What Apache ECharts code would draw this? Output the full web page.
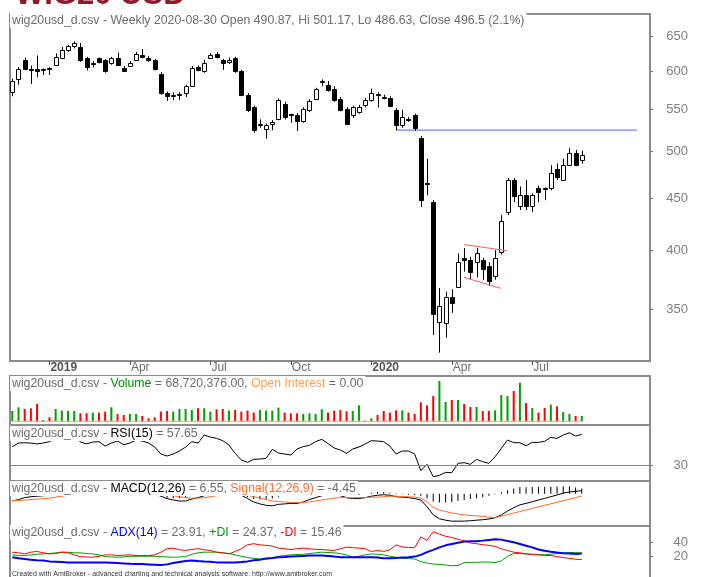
<!DOCTYPE html>
<html>
<head>
<meta charset="utf-8">
<title>wig20usd_d.csv - Weekly</title>
<script src="https://cdn.jsdelivr.net/npm/echarts@6.0.0/dist/echarts.min.js"></script>
<style>
html, body { margin: 0; padding: 0; background: #fff; }
#chart { width: 702px; height: 577px; }
</style>
</head>
<body>
<div id="chart"></div>
<script>
// weekly bars 2018-11-25 .. 2020-08-30 (index 0..92)
const opens = [573,590,616,603,603,603,605,608,619,630, 636,634,618,610,618,615,611,618,605,607,
  616,623,619,615,597,571,567,568,571,581, 606,600,619,624,615,613,618,600,569,553,
  532,527,533,539,557,544.5,544,536,549,563, 586,582,577,564,551,543,547,556,562,570,
  566.5,565,550,531,539,543,516,466,446,340, 339,360,368,393,391,389,391,386,377,398,
  436,469,442,453,442,461,460.5,460,481,469, 485,499,490.87]
const highs = [590,606,619,608,622,604,605.5,625,634,637, 642,640,620,614,619,617,620,626,607,614,
  627,631,621,617,599,573,572,572,582,607, 608,616,625,627,617,619,620,602,571,555,
  538,533,537,564,560,545,546,553,563,578, 589,587,580,566,553,555,556,565,577,572,
  569,567,552,550,541,545,518,492,448,367, 364,366,397,402,394,402,393,389,400,433,
  471,471,462,469,455,463,461,485,487,492, 504,502,501.17]
const lows = [567,582,602,583,592,595,595,607,618,627, 632,613,601,605,611,598,609,607,600,606,
  614,618,613,601,569,561,562,562,566,580, 600,598,617,618,602,610,598,567,547,522,
  528,515,525,537,538,534,524,534,547,565, 580,573,560,548,531,540,545,553,560,553,
  563,553,525,528,535,524,441,453,330,317, 328,347,367,381,374,376,374,369,374,396,
  433,446,438,438,436,446,448,458,469,468, 484,484,486.63]
const closes = [587,603,603,602,600,603.5,604.5,620,630,635, 640,615,606,611,613,600,618,608,601,612,
  624,620,615,603,571,567,569,570,580,605, 602,612,623,620,611,616,600,569,550,525,
  533,531,535,562,541,544,536,551,561,576, 587,575,562,550,533,553,553,562,571,568,
  566,555,531,541,538.5,528,448,465.5,346,352, 360,355,389,391,381,397,383,373,393,427,
  469,452,453,442,453,456,460,476,472,485, 498,485,496.5]
// volume in millions of shares
const volume = [134,182,160,169,225,17,52,160,139,134, 134,104,104,113,113,126,182,95,82,95,
  95,69,39,52,126,134,126,160,160,147, 169,169,126,156,160,139,147,126,139,113,
  147,139,139,178,113,104,104,95,104,95, 156,113,139,147,130,134,208,9,39,82,
  134,113,143,143,113,95,247,208,329,524, 251,277,277,225,186,186,134,134,143,342,
  329,394,503,238,173,113,173,217,195,121, 95,69,68.72]
const openInterest = [0,0,0,0,0,0,0,0,0,0, 0,0,0,0,0,0,0,0,0,0, 0,0,0,0,0,0,0,0,0,0,
  0,0,0,0,0,0,0,0,0,0, 0,0,0,0,0,0,0,0,0,0, 0,0,0,0,0,0,0,0,0,0,
  0,0,0,0,0,0,0,0,0,0, 0,0,0,0,0,0,0,0,0,0, 0,0,0,0,0,0,0,0,0,0, 0,0,0]
const rsi = [46.5,49.8,50,49.8,49,49.8,51,54,56,57, 58,50.7,49,50.7,51,47,49.8,51.6,48.3,49.8,
  52.5,51.6,49.8,46.2,39.9,38.1,39.9,42.6,46.2,51, 49.8,57,55.2,54,51.9,48,40.5,34.5,32.4,35.1,
  35.4,36,44.1,40.8,39.9,39,44.4,46.6,47.7,51.1, 53.1,49.3,45.3,43.5,40.5,44.4,46.2,48.9,51.9,51.6,
  51,47,39.9,42.6,42.6,39.9,24.9,30.6,19.5,20.7, 23.4,23.1,31.5,32.1,30.6,35.1,33,31.5,37.5,45,
  52.5,50.1,50.1,47.4,50.4,50.4,51.3,54.9,54,57, 59.1,56.1,57.65]
const macd = [-15,-12,-8,-6,-5,-4,-3,0,4,8, 12,11,9,7,6,3,2,1,-1,-1,
  1,2,2,0,-5,-10,-13,-15,-15,-11, -8,-4,0,3,4,5,3,-3,-10,-17,
  -21,-24,-25,-22,-21,-20,-20,-17,-12,-8, -4,-2,-2,-4,-8,-10,-10,-8,-5,-3,
  -2,-3,-6,-7,-8,-10,-13,-27,-44,-52, -55,-57,-57,-57,-56,-55,-54,-52.5,-50,-44,
  -36,-29,-23,-20,-16.5,-13,-9.5,-6,-2.5,1.5, 3.8,5,6.55]
const signal = [-14,-14,-13,-12,-11,-10,-9,-7,-5,-3, 0,2,3,4,4,4,4,3,2,1,
  1,1,1,1,0,-2,-4,-6,-8,-9, -9,-8,-6,-4,-3,-1,0,-1,-3,-6,
  -9,-12,-15,-16,-17,-18,-18,-18,-17,-15, -13,-11,-9,-8,-8,-8,-8,-8,-7,-7,
  -6,-5,-5,-6,-6,-7,-9,-17,-28,-34, -37,-40,-42,-44,-45,-46,-47,-48.5,-49.8,-46.6,
  -43.4,-40,-37,-33.7,-30.5,-27.3,-24,-20.9,-17.7,-14.5, -11.3,-8,-4.45]
const macdHist = [-1,2,5,6,6,6,6,7,9,11, 12,9,6,3,2,-1,-2,-2,-3,-2,
  0,1,1,-1,-5,-8,-9,-9,-7,-2, 1,4,6,7,7,6,3,-2,-7,-11,
  -12,-12,-10,-6,-4,-2,-2,1,5,7, 9,9,7,4,0,-2,-2,0,2,4,
  4,2,-1,-1,-2,-3,-4,-10,-16,-18, -18,-17,-15,-13,-11,-9,-7,-4,-1,3,
  7.4,11,14,13.7,14,14.3,14.5,14.9,15.2,16, 15.1,13,11]
const adx = [18.6,17.1,16.2,15.2,14.3,13.9,12.8,12.4,11.9,11.4, 11.4,11.4,11.4,11.4,11.4,11.4,11,10.5,10,9.5,
  9.1,9.1,8.6,8.1,7.6,8.6,10.5,11.9,13.3,13.9, 13.3,12.8,12.4,11.4,11.4,11.4,11.4,11.9,12.8,14.3,
  15.2,16.7,17.6,18.6,19,19.5,20,20.5,21,21, 21,20.5,19.5,18.6,18.6,18.6,18.6,18.6,18.6,18.1,
  17.1,17.1,17.6,18.1,18.6,19.5,21.9,25.7,29,32.4, 35.3,37.2,39,40.5,41,41,41.9,42.9,43.8,43.3,
  41.4,39.5,37.2,34.8,32.4,29.5,27.6,26.2,25.2,24.3, 23.8,23.3,23.91]
const plusDI = [21.9,21,21,21.9,22.8,23.3,23.8,24.8,25.7,25.7, 24.8,24.8,23.8,23.3,21.9,19.5,19,18.6,19,20,
  20,20,20,20,19.5,19,18.6,19,19.5,22.8, 24.8,25.7,25.7,25.7,24.8,23.8,21.9,20,18.1,17.1,
  16.2,16.2,17.1,20,21,21.9,22.4,22.8,23.8,24.8, 25.7,25.2,24.8,23.8,21.9,18.6,20,21.9,23.3,22.8,
  21.9,20,18.6,17.1,16.7,16.2,12.4,10.5,9.1,8.6, 7.6,6.7,7.1,11,11.4,11.4,11.9,11.9,11,13.3,
  20,23.8,23.8,23.3,22.8,22.4,21.9,22.8,23.8,24.8, 25.2,25.2,24.37]
const minusDI = [25.7,24.8,23.3,25.7,26.7,24.8,23.3,23.8,25.7,24.8, 21.9,19.5,19,18.6,20,21.9,21.9,21,21.5,21.9,
  21,21,21,21.9,25.7,30.5,31.4,29,28.1,29.5, 30.5,29,28.1,25.7,24.8,23.3,26.7,30.5,36,37.6,
  36,35.3,34.3,31.4,30.5,29.5,30.5,31.4,30.5,29.5, 29.5,28.6,28.1,30.5,32.9,32,31.4,30.5,26.7,28.1,
  26.7,29,36,32.9,32.4,32,47.1,42.4,54.3,51, 48,46.2,43.8,41.4,38.6,37.6,36.2,35.3,33.8,30.5,
  28.1,25.7,24.8,23.3,22.4,21.9,21,21,19.5,18.1, 17.1,15.7,15.46]

// drawn studies: [bar, price] pairs
const resistanceLine = [[62, 525], [100.9, 525]]
const flagUpper = [[73, 405], [79.9, 399.5]]
const flagLower = [[73, 376], [78.9, 366.8]]

// axis ticks
const dateTickBars = [6, 19, 32, 45, 58, 71, 84]
const dateTickLabels = ['2019', 'Apr', 'Jul', 'Oct', '2020', 'Apr', 'Jul']
const priceTicks = [350, 400, 450, 500, 550, 600, 650]
const rsiTicks = [30]
const adxTicks = [20, 40]

const FONT = 'Liberation Sans, Arial, sans-serif'
const HFS = 12.3
const XMIN = -0.372
const XMAX = 103.02
const GREY = '#6e6e6e'

const chart = echarts.init(document.getElementById('chart'))

const pair = (arr) => arr.map((v, i) => [i, v])
const logPair = (arr) => arr.map(p => [p[0], Math.log(p[1])])

const candleData = closes.map((c, i) => [i, Math.log(opens[i]), Math.log(c), Math.log(lows[i]), Math.log(highs[i])])
const volumeData = volume.map((v, i) => ({
  value: [i, v],
  itemStyle: { color: closes[i] >= opens[i] ? '#00a000' : '#ff0000' }
}))

const renderCandle = (params, api) => {
  const x = api.value(0)
  const o = api.coord([x, api.value(1)])
  const c = api.coord([x, api.value(2)])
  const l = api.coord([x, api.value(3)])
  const h = api.coord([x, api.value(4)])
  const up = api.value(2) >= api.value(1)
  const cx = Math.round(o[0]) + 0.5
  const top = Math.round(Math.min(o[1], c[1])) + 0.5
  const bot = Math.max(Math.round(Math.max(o[1], c[1])) + 0.5, top + 1)
  const line = { stroke: '#000', lineWidth: 1 }
  return {
    type: 'group',
    children: [
      { type: 'line', shape: { x1: cx, y1: h[1], x2: cx, y2: top }, style: line },
      { type: 'line', shape: { x1: cx, y1: bot, x2: cx, y2: l[1] }, style: line },
      { type: 'rect', shape: { x: cx - 2, y: top, width: 4, height: bot - top },
        style: { fill: up ? '#fff' : '#000', stroke: '#000', lineWidth: 1 } }
    ]
  }
}

const grids = [
  { top: 14, height: 347 },
  { top: 376, height: 49 },
  { top: 425, height: 56 },
  { top: 481, height: 45 },
  { top: 526, height: 53 }
].map(g => Object.assign({
  left: 10, right: 52, show: true, borderColor: '#8c8c8c', borderWidth: 2,
  outerBoundsMode: 'none'
}, g))

const xAxes = grids.map((g, k) => ({
  type: 'value', gridIndex: k, min: XMIN, max: XMAX, position: 'bottom',
  axisLine: { show: false, onZero: false }, splitLine: { show: false },
  axisTick: k === 0
    ? { show: true, length: 4, customValues: dateTickBars, lineStyle: { color: '#555' } }
    : { show: false },
  axisLabel: k === 0
    ? {
        show: true, customValues: dateTickBars, align: 'left', margin: 1,
        formatter: v => {
          const s = dateTickLabels[dateTickBars.indexOf(Math.round(v))]
          return /^\d/.test(s) ? '{y|' + s + '}' : '{m|' + s + '}'
        },
        rich: {
          y: { fontFamily: FONT, fontSize: 12, fontWeight: 'bold', color: '#555', padding: [0, 0, 0, 1] },
          m: { fontFamily: FONT, fontSize: 12, color: GREY, padding: [0, 0, 0, 1] }
        }
      }
    : { show: false }
}))

const yAxis = (k, min, max, ticks, fmt) => ({
  type: 'value', gridIndex: k, position: 'right', min, max,
  axisLine: { show: false, onZero: false }, splitLine: { show: false },
  axisTick: ticks ? { show: true, length: 3, customValues: ticks, lineStyle: { color: '#777' } } : { show: false },
  axisLabel: ticks
    ? { show: true, customValues: ticks, formatter: fmt, align: 'right', margin: 38,
        color: '#808080', fontFamily: FONT, fontSize: 13 }
    : { show: false }
})

const yAxes = [
  yAxis(0, 5.7400, 6.5269, priceTicks.map(Math.log), v => String(Math.round(Math.exp(v)))),
  yAxis(1, -48, 589, null),
  yAxis(2, 15.59, 66.04, rsiTicks, v => String(v)),
  yAxis(3, -67.1, 26.7, null),
  yAxis(4, -11.9, 62.4, adxTicks, v => String(v))
]

const header = (top, text, rich) => ({
  text, left: 10, top, padding: [1, 2, 1, 2], backgroundColor: '#fff',
  textStyle: {
    fontFamily: FONT, fontSize: HFS, fontWeight: 'normal', color: GREY, lineHeight: 13,
    rich: Object.assign({ g: { color: GREY, fontFamily: FONT, fontSize: HFS } }, rich)
  }
})
const rs = (color) => ({ color, fontFamily: FONT, fontSize: HFS })

const option = {
  animation: false,
  backgroundColor: '#fff',
  textStyle: { fontFamily: FONT },
  grid: grids,
  xAxis: xAxes,
  yAxis: yAxes,
  title: [
    header(13, 'wig20usd_d.csv - Weekly 2020-08-30 Open 490.87, Hi 501.17, Lo 486.63, Close 496.5 (2.1%)', {}),
    header(376, '{g|wig20usd_d.csv - }{v|Volume}{g| = 68,720,376.00, }{o|Open Interest}{g| = 0.00}',
      { v: rs('#009000'), o: rs('#ffa050') }),
    header(426, '{g|wig20usd_d.csv - }{k|RSI(15)}{g| = 57.65}', { k: rs('#000') }),
    header(481, '{g|wig20usd_d.csv - }{k|MACD(12,26)}{g| = 6.55, }{s|Signal(12,26,9)}{g| = -4.45}',
      { k: rs('#000'), s: rs('#ff6a2a') }),
    header(525, '{g|wig20usd_d.csv - }{a|ADX(14)}{g| = 23.91, }{p|+DI}{g| = 24.37, }{m|-DI}{g| = 15.46}',
      { a: rs('#0000ff'), p: rs('#00a000'), m: rs('#ff0000') }),
    {
      text: 'Created with AmiBroker - advanced charting and technical analysis software. http://www.amibroker.com',
      left: 11, top: 571, padding: [0, 1], backgroundColor: '#fff',
      textStyle: { fontFamily: FONT, fontSize: 7, fontWeight: 'normal', color: '#333' }
    }
  ],
  graphic: [
    {
      type: 'text', z: 10,
      style: {
        x: 15, y: 11, text: 'WIG20 USD', verticalAlign: 'bottom', align: 'left',
        font: 'bold 31px Liberation Sans, Arial, sans-serif', fill: '#8e1a2a'
      }
    }
  ],
  series: [
    {
      name: 'Price', type: 'custom', xAxisIndex: 0, yAxisIndex: 0, clip: true,
      renderItem: renderCandle, data: candleData, encode: { x: 0, y: [1, 2, 3, 4] }, z: 3
    },
    {
      name: 'Resistance', type: 'line', xAxisIndex: 0, yAxisIndex: 0, data: logPair(resistanceLine),
      symbol: 'none', lineStyle: { color: '#7878ff', width: 1.2 }, z: 2
    },
    {
      name: 'Flag upper', type: 'line', xAxisIndex: 0, yAxisIndex: 0, data: logPair(flagUpper),
      symbol: 'none', lineStyle: { color: '#ff5a5a', width: 1 }, z: 4
    },
    {
      name: 'Flag lower', type: 'line', xAxisIndex: 0, yAxisIndex: 0, data: logPair(flagLower),
      symbol: 'none', lineStyle: { color: '#ff5a5a', width: 1 }, z: 4
    },
    {
      name: 'Volume', type: 'bar', xAxisIndex: 1, yAxisIndex: 1, data: volumeData, barWidth: 2
    },
    {
      name: 'Open Interest', type: 'line', xAxisIndex: 1, yAxisIndex: 1, data: pair(openInterest),
      symbol: 'none', lineStyle: { color: '#ffa050', width: 1 }, z: 3
    },
    {
      name: 'RSI(15)', type: 'line', xAxisIndex: 2, yAxisIndex: 2, data: pair(rsi),
      symbol: 'none', lineStyle: { color: '#000', width: 1 },
      markLine: {
        silent: true, symbol: 'none', label: { show: false },
        lineStyle: { color: '#ff5050', width: 1, type: 'solid' },
        data: rsiTicks.map(v => ({ yAxis: v }))
      }
    },
    {
      name: 'MACD Histogram', type: 'bar', xAxisIndex: 3, yAxisIndex: 3, data: pair(macdHist),
      barWidth: 1, itemStyle: { color: '#000' }
    },
    {
      name: 'MACD(12,26)', type: 'line', xAxisIndex: 3, yAxisIndex: 3, data: pair(macd),
      symbol: 'none', lineStyle: { color: '#000', width: 1 }
    },
    {
      name: 'Signal(12,26,9)', type: 'line', xAxisIndex: 3, yAxisIndex: 3, data: pair(signal),
      symbol: 'none', lineStyle: { color: '#ff6a2a', width: 1 }
    },
    {
      name: '+DI', type: 'line', xAxisIndex: 4, yAxisIndex: 4, data: pair(plusDI),
      symbol: 'none', lineStyle: { color: '#00a000', width: 1 }
    },
    {
      name: '-DI', type: 'line', xAxisIndex: 4, yAxisIndex: 4, data: pair(minusDI),
      symbol: 'none', lineStyle: { color: '#ff0000', width: 1 }
    },
    {
      name: 'ADX(14)', type: 'line', xAxisIndex: 4, yAxisIndex: 4, data: pair(adx),
      symbol: 'none', lineStyle: { color: '#0000ff', width: 2 }
    }
  ]
}

chart.setOption(option)
</script>
</body>
</html>
